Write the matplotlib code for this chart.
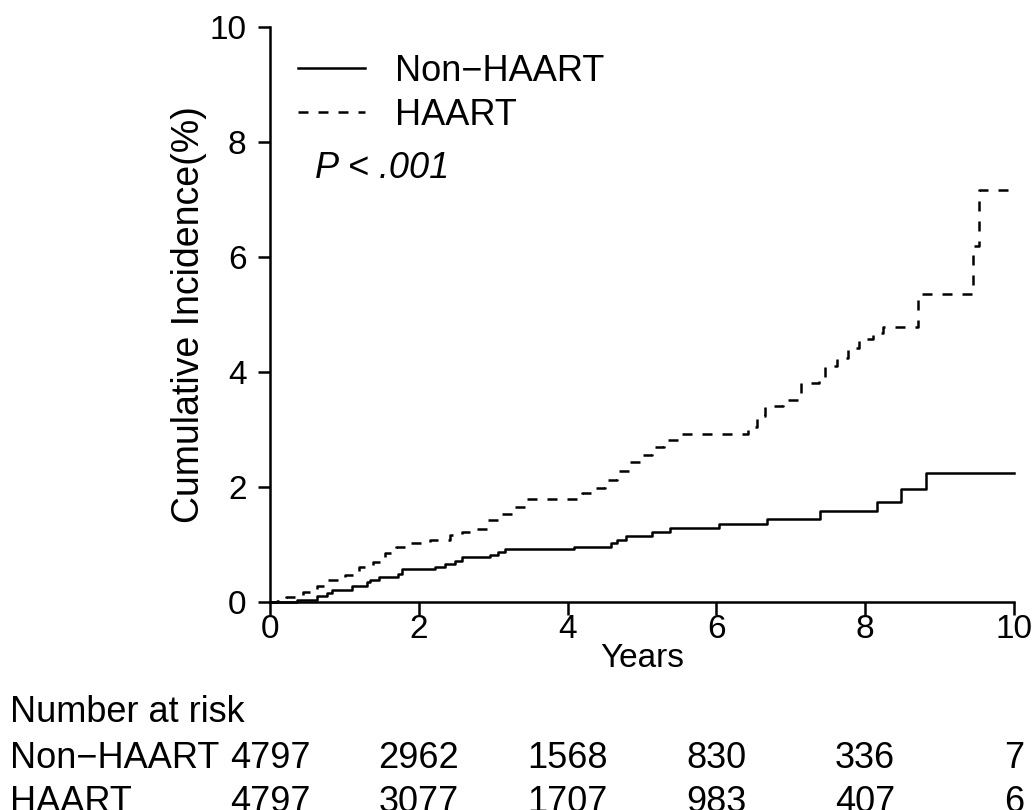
import matplotlib
matplotlib.use("Agg")
import matplotlib.pyplot as plt
import matplotlib.transforms as mtransforms

plt.rcParams["font.family"] = ["Liberation Sans", "DejaVu Sans"]

# cumulative incidence (%), step functions
non_haart_t = [0, 0.36, 0.63, 0.76, 0.83, 1.10, 1.30, 1.34, 1.46, 1.72, 1.78, 2.22, 2.35, 2.49, 2.58,
               2.96, 3.07, 3.16, 4.08, 4.59, 4.66, 4.79, 5.13, 5.38, 6.03, 6.68, 7.39, 8.16, 8.48, 8.82, 10]
non_haart_v = [0, 0.03, 0.10, 0.16, 0.21, 0.27, 0.35, 0.39, 0.44, 0.49, 0.57, 0.61, 0.66, 0.72, 0.78,
               0.82, 0.87, 0.92, 0.96, 1.02, 1.08, 1.14, 1.21, 1.28, 1.35, 1.44, 1.58, 1.74, 1.96, 2.25, 2.25]
haart_t = [0, 0.10, 0.22, 0.45, 0.63, 0.78, 1.01, 1.19, 1.39, 1.55, 1.70, 1.90, 2.15, 2.42, 2.58, 2.78,
           2.93, 3.09, 3.27, 3.45, 4.19, 4.35, 4.50, 4.66, 4.82, 4.97, 5.13, 5.29, 5.51, 6.43, 6.54, 6.65,
           6.90, 7.14, 7.38, 7.46, 7.62, 7.77, 7.91, 8.11, 8.24, 8.71, 9.45, 9.53, 10]
haart_v = [0, 0.02, 0.09, 0.18, 0.28, 0.39, 0.47, 0.61, 0.70, 0.85, 0.95, 1.03, 1.08, 1.17, 1.21, 1.27,
           1.43, 1.53, 1.66, 1.79, 1.90, 1.99, 2.12, 2.27, 2.44, 2.56, 2.70, 2.81, 2.93, 3.05, 3.23, 3.41,
           3.52, 3.81, 3.90, 4.10, 4.25, 4.41, 4.57, 4.67, 4.78, 5.35, 6.20, 7.17, 7.17]

risk_years = [0, 2, 4, 6, 8, 10]
risk_non_haart = [4797, 2962, 1568, 830, 336, 7]
risk_haart = [4797, 3077, 1707, 983, 407, 6]

W, H = 1036, 810
fig = plt.figure(figsize=(W / 100, H / 100), dpi=100)
ax = fig.add_axes([270 / W, 1 - 602 / H, 744 / W, 575 / H])

ax.plot(non_haart_t, non_haart_v, drawstyle="steps-post", color="black", lw=1.8,
        clip_on=False, label="Non\u2212HAART")
ax.plot(haart_t, haart_v, drawstyle="steps-post", color="black", lw=1.8,
        linestyle=(0, (4, 4)), clip_on=False, label="HAART")

ax.set_xlim(0, 10)
ax.set_ylim(0, 10)
ax.set_xticks(range(0, 11, 2))
ax.set_yticks(range(0, 11, 2))
for s in ["top", "right"]:
    ax.spines[s].set_visible(False)
for s in ["left", "bottom"]:
    ax.spines[s].set_linewidth(1.8)
ax.tick_params(length=9, width=1.8, labelsize=24)
ax.tick_params(axis="y", pad=8)
ax.tick_params(axis="x", pad=0)

ax.set_xlabel("Years", fontsize=24, labelpad=-2)
ax.set_ylabel("Cumulative Incidence(%)", fontsize=27, labelpad=2)

leg = ax.legend(loc="upper left", bbox_to_anchor=(298 / W, 1 - 54 / H), bbox_transform=fig.transFigure,
                frameon=False, fontsize=26, handlelength=1.85, handletextpad=0.85,
                labelspacing=0.25, borderaxespad=0, borderpad=0)

fig.text(315 / W, 1 - 168 / H, "P < .001", fontsize=26, style="italic", va="center", ha="left")

# number at risk table
trans = mtransforms.blended_transform_factory(ax.transData, fig.transFigure)
fig.text(10 / W, 1 - 712 / H, "Number at risk", fontsize=26, va="center", ha="left")
fig.text(10 / W, 1 - 758 / H, "Non\u2212HAART", fontsize=26, va="center", ha="left")
fig.text(10 / W, 1 - 802 / H, "HAART", fontsize=26, va="center", ha="left")
for x, a, b in zip(risk_years, risk_non_haart, risk_haart):
    ax.text(x, 1 - 758 / H, str(a), transform=trans, fontsize=26, va="center", ha="center")
    ax.text(x, 1 - 802 / H, str(b), transform=trans, fontsize=26, va="center", ha="center")

fig.savefig("out.png", dpi=100)
